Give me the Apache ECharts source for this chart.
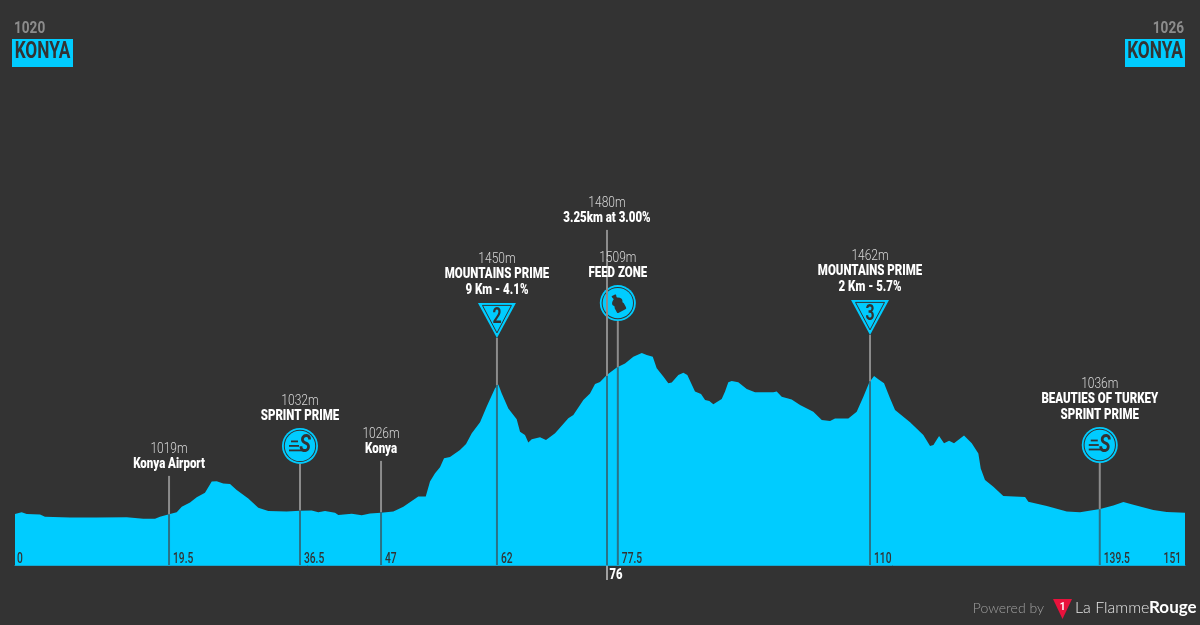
<!DOCTYPE html>
<html><head><meta charset="utf-8">
<style>html,body{margin:0;padding:0;background:#333}#c{width:1200px;height:625px}</style>
<script src="https://cdn.jsdelivr.net/npm/echarts@6/dist/echarts.min.js"></script>
</head><body><div id="c"></div>
<script>
var profileKm=[0,0.86,1.51,3.23,3.87,7.1,10.54,14.42,16.56,18.07,18.71,19.88,20.87,21.52,22.59,23.45,24.52,25.39,26.03,26.88,27.75,28.61,30.11,31.4,32.69,35.07,36.78,38.29,39.15,40.01,41.3,41.73,43.46,44.75,45.82,47.24,48.83,50.12,52.05,53.01,53.56,54.21,54.85,55.37,56.14,57.43,58.21,58.95,60.02,60.88,61.95,62.38,62.82,63.67,64.75,65.18,65.82,66.25,66.69,67.76,68.53,69.7,71.41,72.06,73.35,74.21,74.86,75.5,76.37,77.66,78.73,79.8,80.89,81.53,82.31,82.82,83.67,84.32,84.76,85.61,86.26,86.77,87.76,88.54,89.06,89.61,90.13,91.21,91.64,92.06,92.5,93.35,94.44,95.51,97.87,98.31,98.95,100.24,101.32,103.03,104.12,105.19,105.83,107.55,108.63,109.49,110.26,110.87,111.42,112.16,112.93,113.58,115.52,117.23,118.1,118.53,119.26,119.9,120.55,121.19,122.48,123.48,124.33,124.64,125.19,126.27,127.55,130.36,130.78,133.16,135.74,137.45,140.04,141.75,143.05,144.34,146.91,148.64,151];
var profileAlt=[1020,1026,1020,1018,1011,1008,1008,1009,1004,1004,1011,1019,1026,1044,1058,1076,1091,1128,1129,1122,1120,1100,1072,1041,1030,1028,1031,1032,1026,1030,1024,1017,1021,1016,1022,1024,1028,1044,1078,1078,1128,1156,1176,1206,1210,1233,1253,1289,1326,1378,1439,1452,1422,1372,1336,1294,1283,1258,1269,1276,1267,1289,1339,1350,1400,1422,1453,1460,1483,1508,1522,1544,1557,1550,1544,1506,1478,1456,1458,1483,1491,1483,1428,1420,1400,1397,1386,1403,1428,1459,1463,1459,1437,1426,1426,1428,1411,1402,1383,1361,1333,1330,1338,1338,1361,1411,1459,1480,1469,1456,1406,1367,1326,1283,1247,1250,1280,1256,1264,1256,1282,1256,1222,1172,1133,1111,1080,1077,1061,1047,1028,1026,1037,1048,1060,1051,1033,1027,1024];
var markerKm=[19.88,36.78,47.24,62.2,76.4,77.8,110.35,140.0];
var markerAlt=[1019,1032,1026,1450,1480,1509,1462,1036];
var markerTop=[1147,1187,1197,1607,1967,1663,1617,1190];
var markerHeights=['1019m','1032m','1026m','1450m','1480m','1509m','1462m','1036m'];
var markerTitles=['Konya Airport','SPRINT PRIME','Konya','MOUNTAINS PRIME\n9 Km - 4.1%','3.25km at 3.00%','FEED ZONE','MOUNTAINS PRIME\n2 Km - 5.7%','BEAUTIES OF TURKEY\nSPRINT PRIME'];
var markerIcons=['','sprint','','2','','feed','3','sprint'];
var tickKm=[0,19.88,36.78,47.24,62.2,76.4,77.8,110.35,140.0,151];
var tickLabels=['0','19.5','36.5','47','62','76','77.5','110','139.5','151'];
var startAlt='1020',finishAlt='1026',startName='KONYA',finishName='KONYA';

var CY='#00ccff',BG='#333333';
var BOLD='900 14px Roboto,sans-serif';
var TICK='500 14px Roboto,sans-serif';
var LIGHT='300 15px Roboto,sans-serif';
var chart=echarts.init(document.getElementById('c'));

function txt(t,x,y,fill,font,sx,align){
  return {type:'text',x:x,y:y,scaleX:sx,style:{text:t,x:0,y:0,fill:fill,font:font,textAlign:align||'center',textVerticalAlign:'middle'}};
}
function stemItem(params,api){
  var i=params.dataIndex,g=[];
  var top=api.coord([markerKm[i],markerTop[i]]),sur=api.coord([markerKm[i],markerAlt[i]]),base=api.coord([markerKm[i],850]);
  var x=top[0];
  g.push({type:'line',shape:{x1:x,y1:top[1],x2:x,y2:sur[1]},style:{stroke:'#8c8c8c',lineWidth:2}});
  g.push({type:'line',shape:{x1:x,y1:sur[1],x2:x,y2:base[1]},style:{stroke:'#2b7286',lineWidth:2}});
  var kind=markerIcons[i],blockBottom=top[1]-11;
  if(kind) blockBottom=top[1]-47.5;
  var lines=markerTitles[i].split('\n');
  var y=blockBottom-(lines.length-1)*15.8;
  g.push(txt(markerHeights[i],x,y-15.3,'#d8d8d8',LIGHT,0.8));
  lines.forEach(function(t,k){ g.push(txt(t,x,y+k*15.8,'#fff',BOLD,0.82)); });
  return {type:'group',children:g};
}
function iconItem(params,api){
  var i=params.dataIndex,kind=markerIcons[i];
  if(!kind) return {type:'group',children:[]};
  var top=api.coord([markerKm[i],markerTop[i]]),x=top[0],c=[];
  if(kind==='sprint'||kind==='feed'){
    var cy=top[1]-18;
    c.push({type:'circle',shape:{cx:x,cy:cy,r:18},style:{fill:CY}});
    c.push({type:'circle',shape:{cx:x,cy:cy,r:16.2},style:{fill:BG}});
    c.push({type:'circle',shape:{cx:x,cy:cy,r:15.2},style:{fill:CY}});
    if(kind==='sprint'){
      c.push({type:'line',shape:{x1:x-9,y1:cy-4.5,x2:x-2,y2:cy-4.5},style:{stroke:BG,lineWidth:1.8}});
      c.push({type:'line',shape:{x1:x-11,y1:cy,x2:x-1,y2:cy},style:{stroke:BG,lineWidth:1.8}});
      c.push({type:'line',shape:{x1:x-11,y1:cy+4.5,x2:x+2,y2:cy+4.5},style:{stroke:BG,lineWidth:1.8}});
      c.push(txt('S',x+5,cy,BG,'italic 700 26px Roboto,sans-serif',0.75));
    }else{
      c.push({type:'path',x:x,y:cy,rotation:0.5,
        shape:{pathData:'M8 0 L14 0 L14 3 L13.5 3 L13.5 5 C18 7 19 10 18 12 L17 14 L18 16 L18 22 Q18 24 16 24 L6 24 Q4 24 4 22 L4 16 L5 14 L4 12 C3 10 4 7 8.5 5 L8.5 3 L8 3 Z',x:-5.5,y:-10.5,width:11,height:21},
        style:{fill:BG}});
    }
  }else{
    var t=top[1]-35;
    c.push({type:'polygon',shape:{points:[[x-19,t],[x+19,t],[x,top[1]]]},style:{fill:CY}});
    c.push({type:'polygon',shape:{points:[[x-14.5,t+2.5],[x+14.5,t+2.5],[x,t+30]]},style:{fill:CY,stroke:BG,lineWidth:1}});
    c.push(txt(kind,x,t+14.5,BG,'700 22px Roboto,sans-serif',0.72));
  }
  return {type:'group',children:c};
}
function tickItem(params,api){
  var i=params.dataIndex,p=api.coord([tickKm[i],850]),x=p[0],lab=tickLabels[i];
  if(lab==='76'){
    return {type:'group',children:[
      {type:'line',shape:{x1:x,y1:p[1]+1,x2:x,y2:p[1]+15},style:{stroke:'#a0a0a0',lineWidth:2}},
      txt(lab,x+2.5,p[1]+10,'#fff',BOLD,0.8,'left')]};
  }
  var right=lab==='151';
  return txt(lab,right?x-4:(lab==='0'?x+2:x+4),p[1]-6,BG,TICK,0.73,right?'right':'left');
}
function head(altX,altAlign,alt,name,boxX,boxW){
  return [
    {type:'text',x:altX,y:29,scaleX:0.8,z:10,style:{text:alt,x:0,y:0,fill:'#8c8c8c',font:'700 17px Roboto,sans-serif',textAlign:altAlign,textVerticalAlign:'middle'}},
    {type:'rect',x:boxX,y:39,z:10,shape:{width:boxW,height:28},style:{fill:CY}},
    {type:'text',x:boxX+boxW/2,y:52,scaleX:0.75,z:11,style:{text:name,x:0,y:0,fill:BG,font:'700 23px Roboto,sans-serif',textAlign:'center',textVerticalAlign:'middle'}}
  ];
}
chart.setOption({
  animation:false,backgroundColor:BG,
  grid:{left:15,right:15,top:25,bottom:60},
  xAxis:{type:'value',min:0,max:151,axisLine:{show:true,onZero:false,lineStyle:{color:'#12a9d4',width:1}},axisTick:{show:false},axisLabel:{show:false},splitLine:{show:false}},
  yAxis:{type:'value',min:850,max:2650,axisLine:{show:false},axisTick:{show:false},axisLabel:{show:false},splitLine:{show:false}},
  series:[
    {type:'line',z:1,symbol:'none',data:profileKm.map(function(k,i){return [k,profileAlt[i]];}),lineStyle:{width:0},areaStyle:{color:CY,opacity:1},silent:true},
    {type:'custom',z:2,renderItem:iconItem,data:markerKm.map(function(k,i){return [k,markerTop[i]];}),clip:false,silent:true},
    {type:'custom',z:3,renderItem:stemItem,data:markerKm.map(function(k,i){return [k,markerTop[i]];}),clip:false,silent:true},
    {type:'custom',z:4,renderItem:tickItem,data:tickKm.map(function(k){return [k,850];}),clip:false,silent:true}
  ],
  graphic:head(14,'left',startAlt,startName,12,61).concat(head(1184,'right',finishAlt,finishName,1125,60)).concat([
    {type:'text',x:1044,y:608,style:{text:'Powered by',x:0,y:0,fill:'#a0a0a0',font:'300 14px Lato,sans-serif',textAlign:'right',textVerticalAlign:'middle'}},
    {type:'polygon',z:10,shape:{points:[[1053,599],[1072,599],[1062.5,619]]},style:{fill:'#e8123c'}},
    {type:'text',z:11,x:1062.5,y:607,style:{text:'1',x:0,y:0,fill:'#fff',font:'700 10px Roboto,sans-serif',textAlign:'center',textVerticalAlign:'middle'}},
    {type:'text',x:1075,y:608,style:{text:'La Flamme',x:0,y:0,fill:'#e6e6e6',font:'300 16px Lato,sans-serif',textVerticalAlign:'middle'}},
    {type:'text',x:1149,y:608,style:{text:'Rouge',x:0,y:0,fill:'#fff',font:'700 17px Lato,sans-serif',textVerticalAlign:'middle'}}
  ])
});
</script></body></html>
